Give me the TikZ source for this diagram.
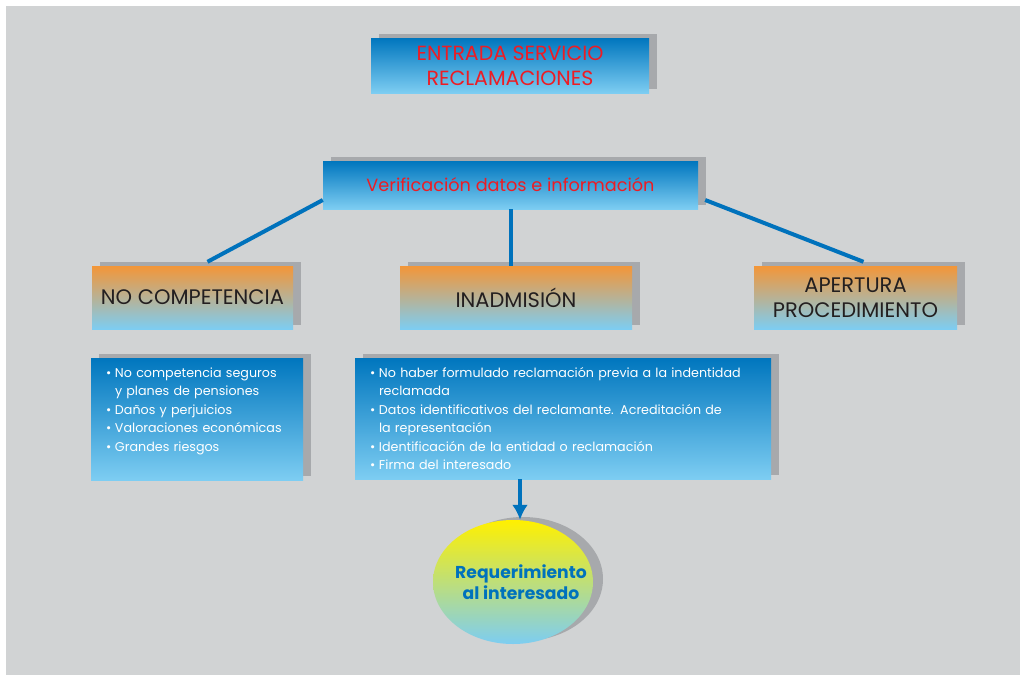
\documentclass[tikz,border=0pt]{standalone}
\usepackage{fontspec}
\setmainfont{Poppins}
\usepackage{xcolor}
\usetikzlibrary{
    arrows.meta,
    positioning,
    calc,
    shapes.geometric,
    shadows
}
\definecolor{panelgrey}{RGB}{209,211,212}
\definecolor{depthgrey}{RGB}{167,169,172}
\definecolor{deepblue}{RGB}{0,118,190}
\definecolor{paleblue}{RGB}{125,205,242}
\definecolor{warmorange}{RGB}{243,150,56}
\definecolor{sunyellow}{RGB}{255,240,0}
\definecolor{titlered}{RGB}{237,28,36}
\definecolor{inkdark}{RGB}{35,31,32}
\definecolor{linkblue}{RGB}{0,114,188}
\tikzset{
    block3d/.style={
        drop shadow={shadow xshift=8pt, shadow yshift=4pt, fill=depthgrey, opacity=1},
        inner sep=0pt,
        align=center
    }
}
\tikzset{
    bluebox/.style={
        block3d,
        top color=deepblue,
        middle color=deepblue!60!paleblue,
        bottom color=paleblue
    }
}
\tikzset{
    stagebox/.style={
        block3d,
        top color=warmorange,
        bottom color=paleblue,
        minimum height=63pt,
        text=inkdark,
        font=\fontsize{21}{25}\selectfont
    }
}
\tikzset{
    listbox/.style={
        bluebox,
        text=white,
        align=left,
        inner xsep=15pt,
        inner ysep=6pt,
        text height=13pt,
        font=\fontsize{12.7}{18.5}\selectfont
    }
}
\tikzset{
    link/.style={
        draw=linkblue,
        line width=4pt
    }
}
\newcommand{\bul}{\makebox[9pt][l]{\textbullet}}
\newcommand{\hang}{\hspace*{9pt}}
\newcommand{\midline}[1]{\makebox[0pt][c]{\hspace*{16pt}#1}}

\begin{document}
\begin{tikzpicture}[
    x=1pt, y=-1pt,
    >=Latex
]

% ------------------------------------------------------------
% Panel
% ------------------------------------------------------------

\useasboundingbox (0,0) rectangle (1020,675);
\fill[panelgrey] (6,6) rectangle (1020,675);

% ------------------------------------------------------------
% Entry and check
% ------------------------------------------------------------

\node[bluebox, minimum width=278pt, minimum height=55pt, text=titlered,
    font=\fontsize{20.5}{25}\selectfont] (entrada) at (510,65.5)
    {ENTRADA SERVICIO\\RECLAMACIONES};
\node[bluebox, minimum width=375pt, minimum height=48pt, text=titlered,
    font=\fontsize{17.7}{25}\selectfont] (verif) at (510.5,185)
    {Verificación datos e información};

% ------------------------------------------------------------
% Outcomes
% ------------------------------------------------------------

\node[stagebox, minimum width=201pt] (nocomp) at (192.5,297.5) {NO COMPETENCIA};
\node[stagebox, minimum width=232pt] (inad)   at (516,297.5)   {INADMISIÓN};
\node[stagebox, minimum width=203pt] (apert)  at (855.5,297.5) {APERTURA\\PROCEDIMIENTO};

\draw[link] ([yshift=-15pt]verif.west) -- ([xshift=15pt,yshift=4pt]nocomp.north);
\draw[link] (verif.south) -- (verif.south |- inad.north);
\draw[link] ([xshift=7pt,yshift=-15pt]verif.east) -- ([xshift=8pt,yshift=4pt]apert.north);

% ------------------------------------------------------------
% Detail lists
% ------------------------------------------------------------

\node[listbox, minimum width=212pt, text width=182pt, text depth=97pt] (list1) at (197,419)
    {\bul No competencia seguros\\
     \hang y planes de pensiones\\
     \bul Daños y perjuicios\\
     \bul Valoraciones económicas\\
     \bul Grandes riesgos};
\node[listbox, minimum width=416pt, text width=386pt, text depth=96pt] (list2) at (563,418.5)
    {\bul No haber formulado reclamación previa a la indentidad\\
     \hang reclamada\\
     \bul Datos identificativos del reclamante. Acreditación de\\
     \hang la representación\\
     \bul Identificación de la entidad o reclamación\\
     \bul Firma del interesado};

% ------------------------------------------------------------
% Request to the claimant
% ------------------------------------------------------------

\node[ellipse, drop shadow={shadow xshift=10pt, shadow yshift=3pt, fill=depthgrey, opacity=1},
    top color=sunyellow, bottom color=paleblue, minimum width=160pt, minimum height=124pt,
    inner sep=0pt, align=center, text=linkblue, font=\fontsize{17.2}{21}\selectfont\bfseries]
    (reqm) at (513,582) {\midline{Requerimiento}\\\midline{al interesado}};

\draw[link, -{Latex[width=16pt,length=15pt]}]
    ([xshift=7pt]reqm.north |- list2.south) -- ([xshift=7pt]reqm.north);

\end{tikzpicture}
\end{document}
